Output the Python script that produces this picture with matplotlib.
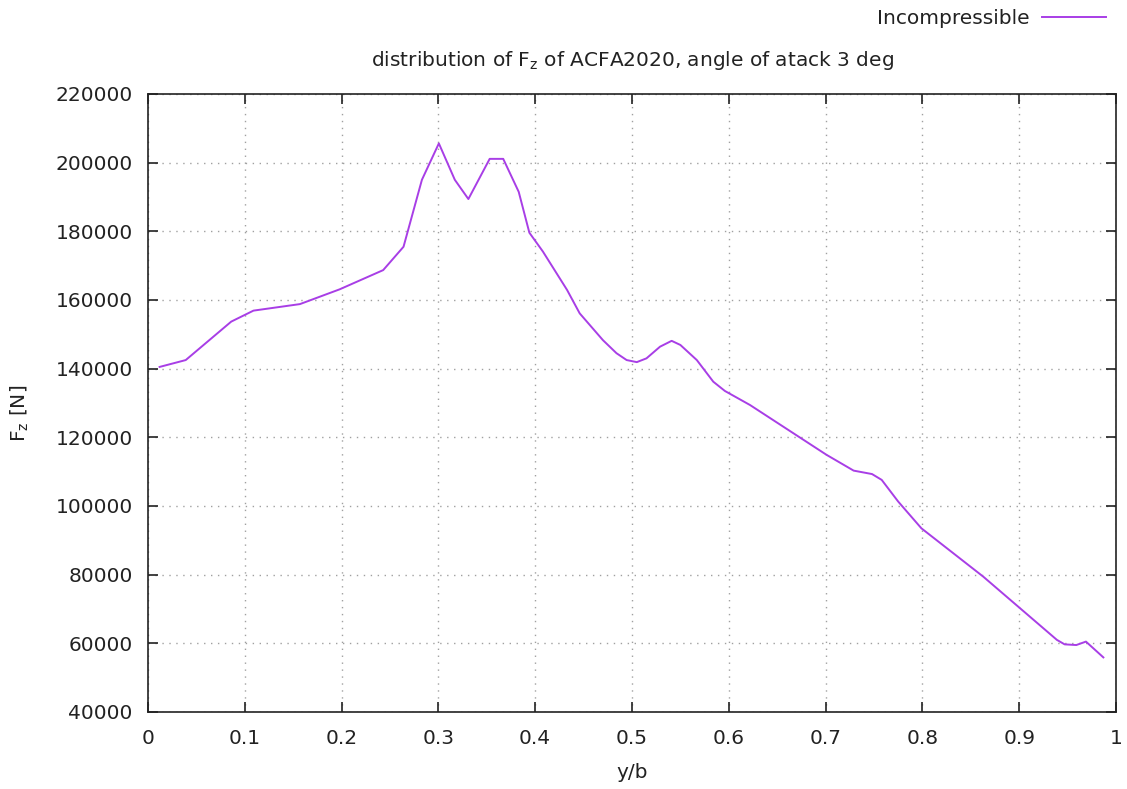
import matplotlib
matplotlib.use("Agg")
import matplotlib.pyplot as plt
from matplotlib.ticker import MultipleLocator, FuncFormatter

# spanwise position y/b and lift force F_z [N]
span = [0.012, 0.039, 0.086, 0.109, 0.157, 0.198, 0.243, 0.264, 0.283, 0.3005,
        0.317, 0.331, 0.353, 0.367, 0.383, 0.394, 0.408, 0.433, 0.446, 0.470,
        0.484, 0.4945, 0.505, 0.515, 0.529, 0.541, 0.550, 0.567, 0.584, 0.596,
        0.622, 0.701, 0.729, 0.748, 0.758, 0.775, 0.799, 0.863, 0.901, 0.939,
        0.947, 0.959, 0.969, 0.987]
fz = [140500, 142500, 153700, 156900, 158800, 163100, 168700, 175500, 195000, 205600,
      195000, 189400, 201100, 201100, 191500, 179600, 174100, 162900, 156100, 148300,
      144500, 142500, 141900, 143000, 146400, 148100, 146900, 142500, 136200, 133500,
      129400, 114900, 110300, 109300, 107600, 101300, 93500, 79400, 70200, 61000,
      59700, 59500, 60500, 55900]

FS = 14.5
plt.rcParams["font.family"] = "DejaVu Sans"
plt.rcParams["font.size"] = FS

fig = plt.figure(figsize=(11.27, 7.89), dpi=100)
ax = fig.add_axes([0.1313, 0.0976, 0.8589, 0.7833])

ax.plot(span, fz, color="#a83ee6", linewidth=1.4, label="Incompressible")

ax.set_xlim(0, 1)
ax.set_ylim(40000, 220000)
ax.xaxis.set_major_locator(MultipleLocator(0.1))
ax.yaxis.set_major_locator(MultipleLocator(20000))
ax.xaxis.set_major_formatter(FuncFormatter(lambda v, p: "%g" % round(v, 2)))
ax.yaxis.set_major_formatter(FuncFormatter(lambda v, p: "%d" % v))

ax.tick_params(direction="in", length=7, width=1.2, top=True, right=True,
               labelsize=FS, colors="#222222")
ax.tick_params(axis="y", pad=11)
ax.tick_params(axis="x", pad=12)
for s in ax.spines.values():
    s.set_linewidth(1.2)
    s.set_color("#222222")

ax.grid(True, color="#a0a0a0", linestyle=(0, (1, 4)), linewidth=1.0)

cx = 0.1313 + 0.8589 / 2
fig.text(cx, 1 - 773 / 789, "y/b", ha="center", va="center", color="#222222")
fig.text(20 / 1127, 1 - 413 / 789, "F$_\\mathregular{z}$ [N]", rotation=90,
         ha="center", va="center", color="#222222")
fig.text(cx, 1 - 60 / 789,
         "distribution of F$_\\mathregular{z}$ of ACFA2020, angle of atack 3 deg",
         ha="center", va="center", color="#222222")

fig.legend(loc="center right", bbox_to_anchor=(1106 / 1127, 1 - 19 / 789),
           bbox_transform=fig.transFigure, frameon=False, markerfirst=False,
           handlelength=3.2, handletextpad=0.6, borderpad=0, borderaxespad=0,
           fontsize=FS, labelcolor="#222222")

fig.savefig("out.png", dpi=100)
